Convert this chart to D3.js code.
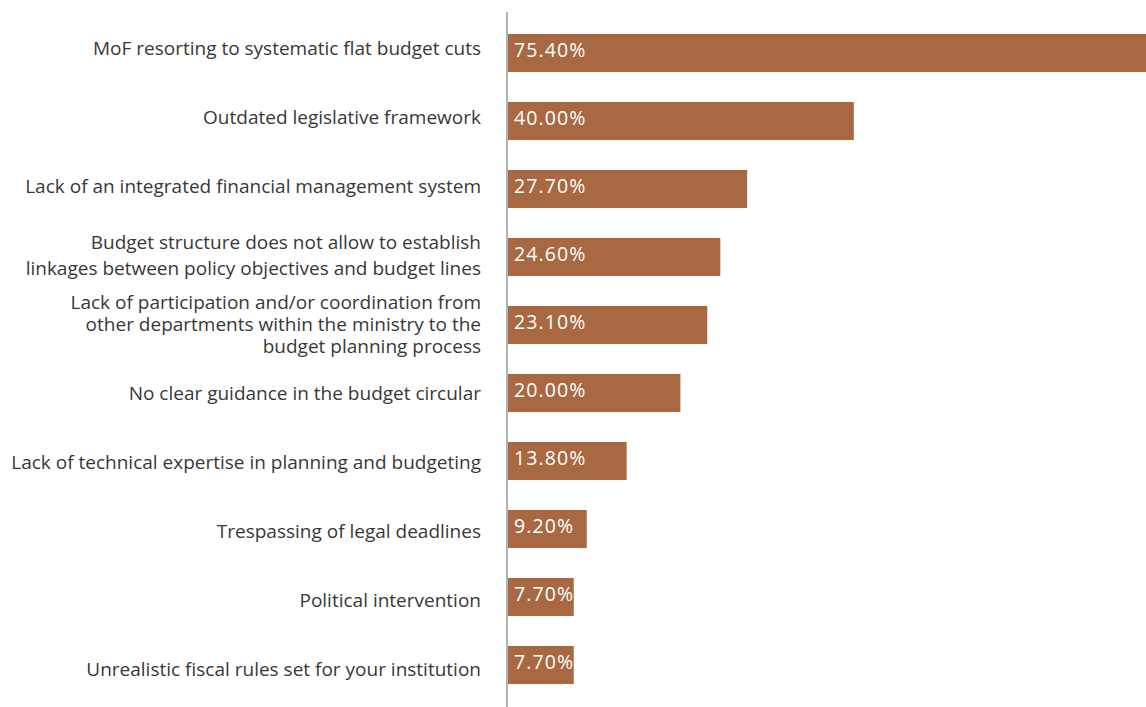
<!DOCTYPE html>
<html>
<head>
<meta charset="utf-8">
<script src="https://cdn.jsdelivr.net/npm/d3@7"></script>
<style>
  html, body { margin: 0; padding: 0; background: #fff; }
  svg { display: block; }
</style>
</head>
<body>
<svg id="chart"></svg>
<script>
// Reported budget-planning obstacles (share of respondents, %)
const categories = [
  "MoF resorting to systematic flat budget cuts",
  "Outdated legislative framework",
  "Lack of an integrated financial management system",
  "Budget structure does not allow to establish\nlinkages between policy objectives and budget lines",
  "Lack of participation and/or coordination from\nother departments within the ministry to the\nbudget planning process",
  "No clear guidance in the budget circular",
  "Lack of technical expertise in planning and budgeting",
  "Trespassing of legal deadlines",
  "Political intervention",
  "Unrealistic fiscal rules set for your institution"
];
const values = [75.4, 40.0, 27.7, 24.6, 23.1, 20.0, 13.8, 9.2, 7.7, 7.7];

const W = 1146, H = 707;
const svg = d3.select("#chart").attr("width", W).attr("height", H);

const x0 = 507;
const x = d3.scaleLinear().domain([0, 100]).range([x0, x0 + 867]);
const y = d3.scaleBand().domain(categories).range([19, 699]).paddingInner(0.44).paddingOuter(0.22);
// category text rows are spaced slightly wider than the bars
const yLabel = d3.scalePoint().domain(categories).range([48, 669]);

const barColor = "#a86942";
const font = "'Open Sans', 'Noto Sans', sans-serif";

// bars
svg.append("g").selectAll("rect")
  .data(categories)
  .join("rect")
  .attr("x", x(0))
  .attr("y", d => y(d))
  .attr("width", (d, i) => x(values[i]) - x(0))
  .attr("height", y.bandwidth())
  .attr("fill", barColor);

// value labels inside the bars
svg.append("g").selectAll("text")
  .data(categories)
  .join("text")
  .attr("x", x(0) + 7)
  .attr("y", d => y(d) + y.bandwidth() / 2)
  .attr("dy", "0.22em")
  .attr("fill", "#ffffff")
  .attr("font-family", font)
  .attr("font-size", 19.5)
  .attr("letter-spacing", 1.1)
  .text((d, i) => values[i].toFixed(2) + "%");

// category labels, right-aligned against the axis
const labels = svg.append("g")
  .attr("font-family", font)
  .attr("font-size", 19)
  .attr("fill", "#383838")
  .attr("text-anchor", "end");

categories.forEach(cat => {
  const lines = cat.split("\n");
  const lh = lines.length > 2 ? 22 : 26;
  const cy = yLabel(cat);
  const t = labels.append("text")
    .attr("x", 481)
    .attr("y", cy - (lines.length - 1) * lh / 2);
  lines.forEach((ln, i) => {
    t.append("tspan")
      .attr("x", 481)
      .attr("dy", i === 0 ? "0.36em" : lh)
      .text(ln);
  });
});

// vertical axis line
svg.append("line")
  .attr("x1", x0).attr("x2", x0)
  .attr("y1", 12).attr("y2", H)
  .attr("stroke", "#b3b3b3")
  .attr("stroke-width", 2);
</script>
</body>
</html>
